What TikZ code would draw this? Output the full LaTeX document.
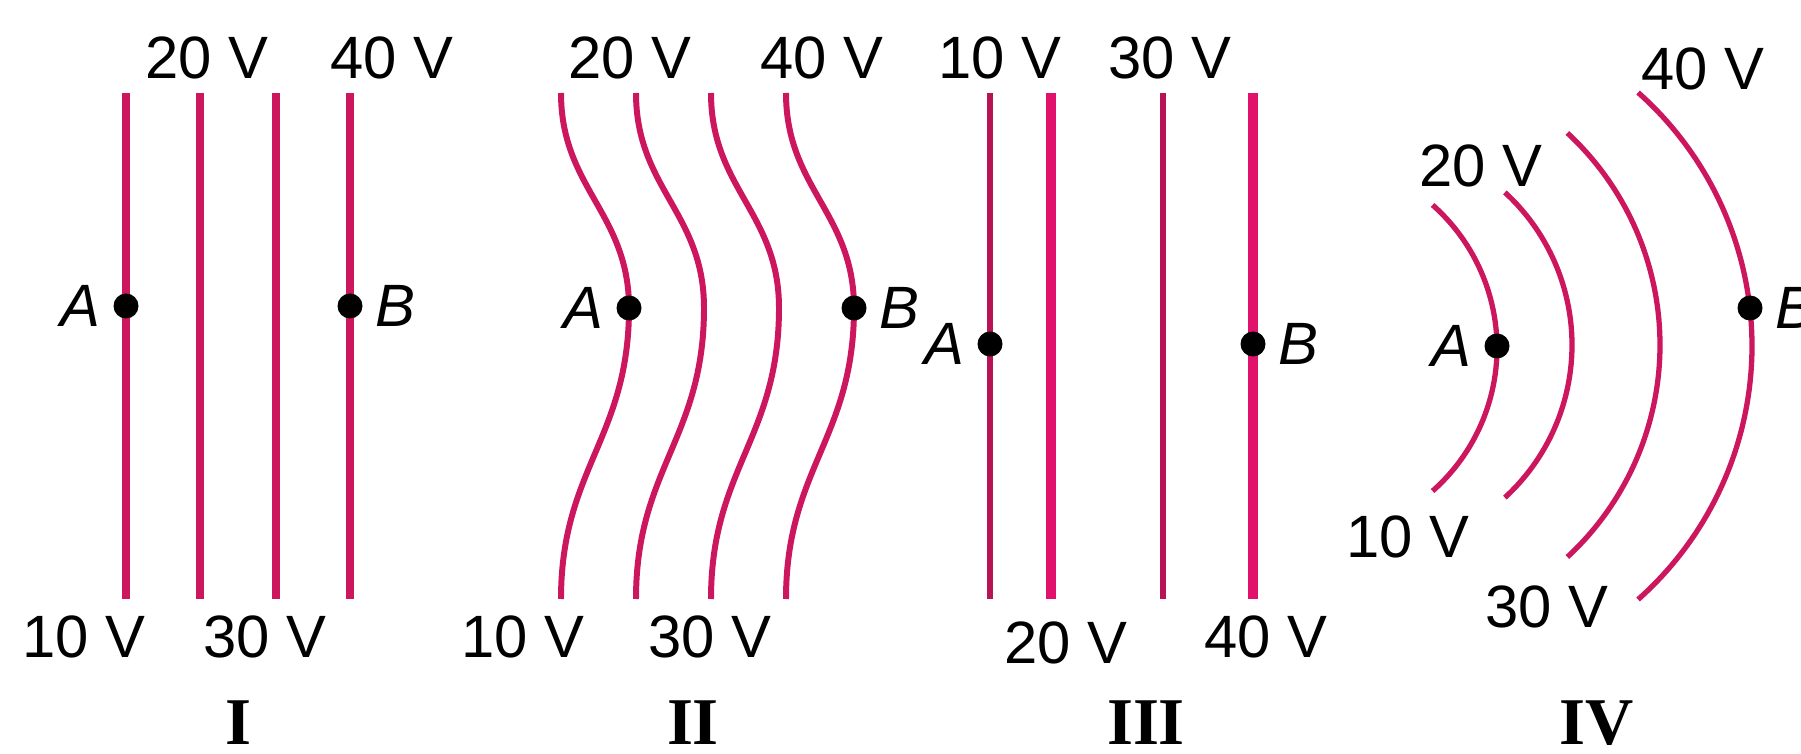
\documentclass[tikz,border=0pt]{standalone}
\usepackage{fontspec}
\setmainfont{Liberation Sans}
\newfontfamily\romanfont{Liberation Serif}
\usetikzlibrary{positioning}
\definecolor{eqcrimson}{RGB}{204,22,94}
\definecolor{eqpink}{RGB}{224,18,108}
\tikzset{
  eq/.style      = {line width=2.2pt, eqcrimson},
  eqthin/.style  = {line width=1.9pt, eqcrimson!90!black},
  eqthick/.style = {line width=2.8pt, eqpink},
  wave/.style    = {line width=1.7pt, eqcrimson},
  arcline/.style = {line width=1.5pt, eqcrimson}
}

\begin{document}
\begin{tikzpicture}[
  volt/.style={font=\fontsize{17}{20}\selectfont, inner sep=0pt},
  lbl/.style={font=\fontsize{17}{20}\selectfont\itshape, inner sep=0pt},
  pt/.style={circle, fill=black, inner sep=0pt, minimum size=0.25cm},
  panel/.style={font=\fontsize{19}{22}\selectfont\romanfont\bfseries, inner sep=0pt}
]
\useasboundingbox (0,0) rectangle (18.01,7.53);

%% Panel I
\foreach \x in {1.26,2.00,2.76,3.50}
  \draw[eq] (\x,6.60) -- (\x,1.54);
\node[pt]  (A1) at (1.26,4.47) {};
\node[pt]  (B1) at (3.50,4.47) {};
\node[lbl, left=0.12cm of A1]  {A};
\node[lbl, right=0.12cm of B1] {B};
\node[volt] (v20a) at (2.07,6.95) {20 V};
\node[volt] (v40a) at (3.92,6.95) {40 V};
\node[volt] (v10a) at (0.84,1.16) {10 V};
\node[volt] (v30a) at (2.65,1.16) {30 V};
\node[panel] (p1) at (2.38,0.30) {I};

%% Panel II
\foreach \x in {5.61,6.36,7.11,7.86}
  \draw[wave] (\x,6.60) .. controls +(0,-0.95) and +(0,0.95) .. ++(0.68,-2.15)
                        .. controls +(0,-1.30) and +(0,1.30) .. ++(-0.68,-2.91);
\node[pt]  (A2) at (6.29,4.45) {};
\node[pt]  (B2) at (8.54,4.45) {};
\node[lbl, left=0.12cm of A2]  {A};
\node[lbl, right=0.12cm of B2] {B};
\node[volt] (v20b) at (6.30,6.95) {20 V};
\node[volt] (v40b) at (8.22,6.95) {40 V};
\node[volt] (v10b) at (5.23,1.16) {10 V};
\node[volt] (v30b) at (7.10,1.16) {30 V};
\node[panel] (p2) at (6.93,0.30) {II};

%% Panel III
\draw[eqthin]  (9.90,6.60)  -- (9.90,1.54);
\draw[eqthick] (10.51,6.60) -- (10.51,1.54);
\draw[eqthin]  (11.63,6.60) -- (11.63,1.54);
\draw[eqthick] (12.53,6.60) -- (12.53,1.54);
\node[pt]  (A3) at (9.90,4.09) {};
\node[pt]  (B3) at (12.53,4.09) {};
\node[lbl, left=0.12cm of A3]  {A};
\node[lbl, right=0.12cm of B3] {B};
\node[volt] (v10c) at (10.00,6.95) {10 V};
\node[volt] (v30c) at (11.70,6.95) {30 V};
\node[volt] (v20c) at (10.66,1.10) {20 V};
\node[volt] (v40c) at (12.66,1.16) {40 V};
\node[panel] (p3) at (11.46,0.30) {III};

%% Panel IV
\draw[arcline] (13.06,4.05) ++(-48.5:1.91cm) arc[start angle=-48.5, end angle=48.5, radius=1.91cm];
\draw[arcline] (13.65,4.08) ++(-47.5:2.07cm) arc[start angle=-47.5, end angle=47.5, radius=2.07cm];
\draw[arcline] (13.71,4.08) ++(-47.2:2.89cm) arc[start angle=-47.2, end angle=47.2, radius=2.89cm];
\draw[arcline] (14.13,4.07) ++(-48.4:3.39cm) arc[start angle=-48.4, end angle=48.4, radius=3.39cm];
\node[pt]  (A4) at (14.97,4.07) {};
\node[pt]  (B4) at (17.50,4.45) {};
\node[lbl, left=0.12cm of A4]  {A};
\node[lbl, right=0.12cm of B4] {B};
\node[volt] (v40d) at (17.03,6.84) {40 V};
\node[volt] (v20d) at (14.81,5.87) {20 V};
\node[volt] (v10d) at (14.08,2.16) {10 V};
\node[volt] (v30d) at (15.47,1.46) {30 V};
\node[panel] (p4) at (15.97,0.30) {IV};

\end{tikzpicture}
\end{document}
